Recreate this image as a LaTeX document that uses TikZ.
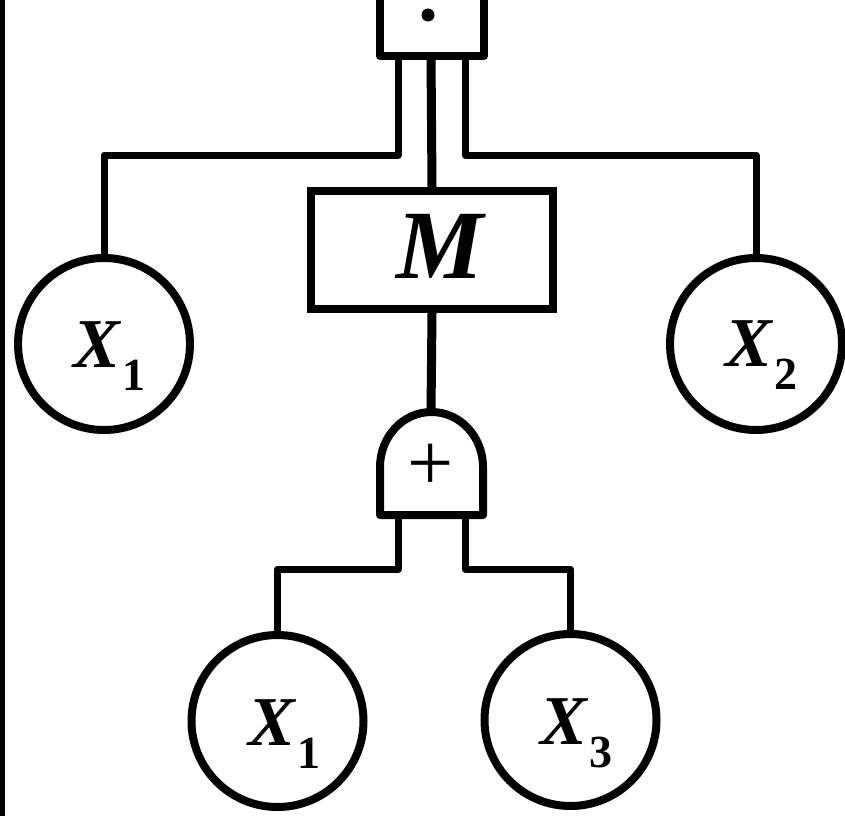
\documentclass[tikz,border=0pt]{standalone}
\usepackage{fontspec}
\setmainfont{Liberation Serif}
\newcommand{\xlab}[1]{{\fontsize{70}{70}\selectfont\bfseries\itshape X}\kern3pt\raisebox{-23pt}{\fontsize{46}{46}\selectfont\bfseries #1}}
\begin{document}
\begin{tikzpicture}[x=1pt,y=-1pt,
  event/.style={circle,draw,line width=8pt,minimum size=172pt,inner sep=0pt},
  boxnode/.style={rectangle,draw,line width=8pt,minimum width=242pt,minimum height=118pt,inner sep=0pt},
  conn/.style={line width=7pt,line join=round},
  mainconn/.style={line width=9pt},
  lbl/.style={inner sep=0pt,anchor=base west}]
\useasboundingbox (0,0) rectangle (845,816);
% left margin line
\draw[line width=5pt] (2.5,0) -- (2.5,816);
% top gate (U shape, open at top)
\coordinate (ua) at (380,-6);
\coordinate (ub) at (380,56);
\coordinate (uc) at (484,56);
\coordinate (ud) at (484,-6);
\draw[line width=7.5pt,line join=round] (ua) -- (ub) -- (uc) -- (ud);
\fill (428,15) circle (6.5pt);
\coordinate (ul) at (398,56);
\coordinate (um) at (431,56);
\coordinate (ur) at (465,56);
% events
\node[event] (xa) at (104,344) {};
\node[event] (xb) at (756,344) {};
\node[event] (xc) at (277.5,721) {};
\node[event] (xd) at (570.5,720) {};
\node[lbl] (ta) at (73,367) {\xlab{1}};
\node[lbl] (tb) at (725,366) {\xlab{2}};
\node[lbl] (tc) at (248,745) {\xlab{1}};
\node[lbl] (td) at (540,744) {\xlab{3}};
% M box
\node[boxnode] (m) at (432,250) {};
\node[inner sep=0pt] (mt) at (440,246) {\fontsize{98}{98}\selectfont\bfseries\itshape M};
% OR gate
\coordinate (orin) at (431,412);
\coordinate (orl) at (398,515);
\coordinate (orr) at (465,515);
\draw[line width=8pt,line join=round] (380,515) -- (380,467) arc[start angle=180,end angle=0,x radius=51.5pt,y radius=55pt] -- (483,515) -- cycle;
\node[inner sep=0pt] (plus) at (431,467) {\fontsize{82}{82}\selectfont +};
% connectors
\coordinate (j1) at (398,155);
\coordinate (j2) at (104,155);
\coordinate (j3) at (465,155);
\coordinate (j4) at (756,155);
\draw[conn] (ul) -- (j1) -- (j2) -- (xa.north);
\draw[conn] (ur) -- (j3) -- (j4) -- (xb.north);
\draw[mainconn] (um) -- (m.north);
\draw[mainconn] (m.south) -- (orin);
\coordinate (k1) at (398,569);
\coordinate (k2) at (277.5,569);
\coordinate (k3) at (465,569);
\coordinate (k4) at (570.5,569);
\draw[conn] (orl) -- (k1) -- (k2) -- (xc.north);
\draw[conn] (orr) -- (k3) -- (k4) -- (xd.north);
\end{tikzpicture}
\end{document}
